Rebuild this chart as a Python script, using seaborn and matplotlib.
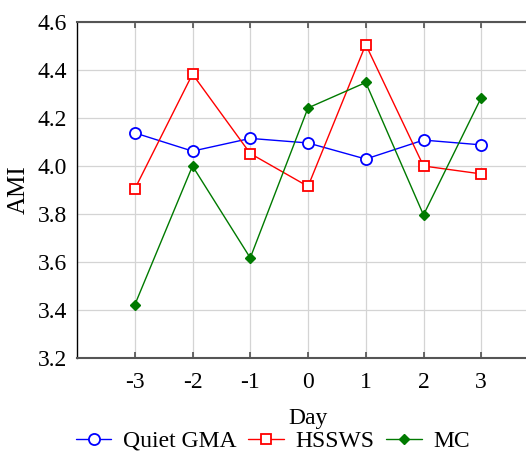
import matplotlib
matplotlib.use("Agg")
import matplotlib.pyplot as plt
import seaborn as sns
import pandas as pd

days = [-3, -2, -1, 0, 1, 2, 3]
quiet_gma = [4.138, 4.062, 4.115, 4.096, 4.029, 4.108, 4.088]
hssws = [3.904, 4.383, 4.052, 3.915, 4.506, 4.000, 3.967]
mc = [3.421, 4.000, 3.617, 4.242, 4.348, 3.796, 4.285]
series_names = ["Quiet GMA", "HSSWS", "MC"]

sns.set_theme(style="white")
plt.rcParams["font.family"] = ["Liberation Serif", "DejaVu Serif"]
plt.rcParams["text.color"] = "black"
plt.rcParams["axes.labelcolor"] = "black"

fig = plt.figure(figsize=(5.26, 4.53), dpi=100)
W, H = 526, 453
left, right, top, bottom = 77, 539, 22, 358
ax = fig.add_axes([left / W, 1 - bottom / H, (right - left) / W, (bottom - top) / H])

styles = {
    "Quiet GMA": dict(color="#0000ff", marker="o", mfc="white", ms=8, mew=1.3),
    "HSSWS": dict(color="#ff0000", marker="s", mfc="white", ms=7.5, mew=1.3),
    "MC": dict(color="#007a00", marker="D", mfc="#007a00", ms=5.5, mew=1.0),
}
values = {"Quiet GMA": quiet_gma, "HSSWS": hssws, "MC": mc}

for name in series_names:
    df = pd.DataFrame({"Day": days, "AMI": values[name]})
    st = styles[name]
    sns.lineplot(data=df, x="Day", y="AMI", ax=ax, color=st["color"], lw=1.0,
                 marker=st["marker"], markersize=st["ms"], markerfacecolor=st["mfc"],
                 markeredgecolor=st["color"], markeredgewidth=st["mew"], label=name,
                 legend=False)

ax.set_xlim(-4, 4)
ax.set_ylim(3.2, 4.6)
ax.set_xticks(days)
ax.set_xticklabels([str(d) for d in days])
ax.set_yticks([3.2, 3.4, 3.6, 3.8, 4.0, 4.2, 4.4, 4.6])
ax.set_yticklabels([f"{v:.1f}" for v in ax.get_yticks()])
ax.grid(True, color="#d4d4d4", lw=0.9, ls="-")
ax.set_axisbelow(True)

for s in ["top", "bottom"]:
    ax.spines[s].set_color("#555555")
    ax.spines[s].set_linewidth(1.5)
ax.spines["left"].set_color("black")
ax.spines["left"].set_linewidth(1.0)
ax.spines["right"].set_visible(False)

ax.tick_params(axis="both", direction="in", length=4, labelsize=17, labelcolor="black",
               color="#555555", top=True, bottom=True, left=False, pad=7)
ax.tick_params(axis="x", pad=10)

ax.set_xlabel("Day", fontsize=17, labelpad=11)
ax.set_ylabel("AMI", fontsize=18, labelpad=6)

handles, labels = ax.get_legend_handles_labels()
fig.legend(handles, labels, loc="lower center", bbox_to_anchor=(273 / W, 0.0),
           ncol=3, frameon=False, fontsize=17, handlelength=1.5, handletextpad=0.5,
           columnspacing=0.5, borderpad=0.05, borderaxespad=0.0)

fig.savefig("out.png", dpi=100)
